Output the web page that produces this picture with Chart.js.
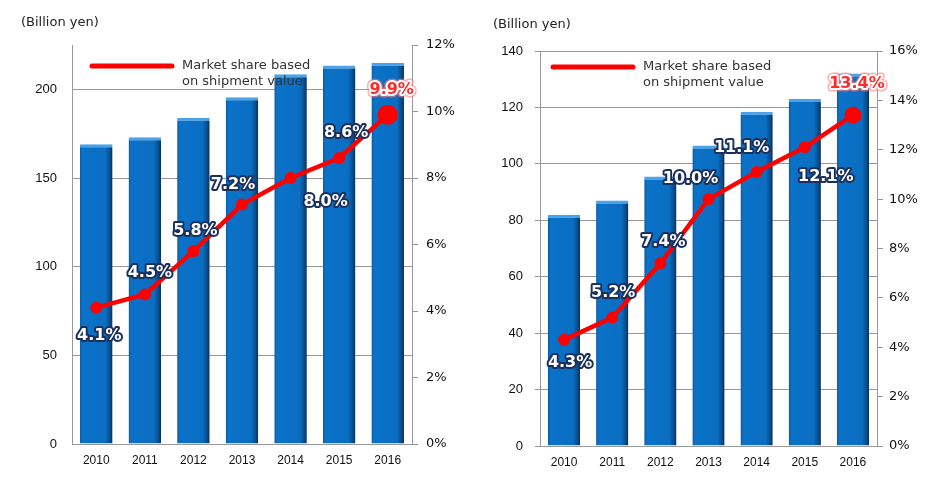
<!DOCTYPE html>
<html>
<head>
<meta charset="utf-8">
<script src="https://cdn.jsdelivr.net/npm/chart.js@4.4.1/dist/chart.umd.min.js"></script>
<style>
  body { margin: 0; background: #fff; }
  .wrap { position: absolute; top: 0; height: 478px; }
  #leftWrap { left: 0; width: 470px; }
  #rightWrap { left: 470px; width: 473px; }
</style>
</head>
<body>
<div class="wrap" id="leftWrap"><canvas id="chartLeft"></canvas></div>
<div class="wrap" id="rightWrap"><canvas id="chartRight"></canvas></div>
<script>
// Data
const years = ['2010', '2011', '2012', '2013', '2014', '2015', '2016'];

// left chart: sales (billion yen) and market share (%)
const leftSales = [169, 173, 184, 195.5, 208.5, 213.5, 215];
const leftShare = [4.1, 4.5, 5.8, 7.2, 8.0, 8.6, 9.9];

// right chart
const rightSales = [82, 87, 95.5, 106.5, 118.5, 123, 132];
const rightShare = [4.3, 5.2, 7.4, 10.0, 11.1, 12.1, 13.4];

const legendText = ['Market share based', 'on shipment value'];
const unitText = '(Billion yen)';

// Bar fill: horizontal gradient with darker edges
function barGradient(ctx) {
    const chart = ctx.chart;
    const area = chart.chartArea;
    if (!area || ctx.type !== 'data') return '#0a6ec2';
    const x = chart.scales.x.getPixelForValue(ctx.dataIndex);
    const w = (area.right - area.left) / years.length * 0.67;
    const g = chart.ctx.createLinearGradient(x - w / 2, 0, x + w / 2, 0);
    g.addColorStop(0, '#0b5a9f');
    g.addColorStop(0.08, '#0a72c8');
    g.addColorStop(0.78, '#0a6ec2');
    g.addColorStop(0.92, '#0a4c8a');
    g.addColorStop(1, '#08305c');
    return g;
}

// Draws unit label, legend and the share labels next to the points
const overlayPlugin = {
    id: 'overlay',
    afterDatasetsDraw(chart, args, opts) {
        const c = chart.ctx;
        const meta = chart.getDatasetMeta(1);
        const data = chart.data.datasets[1].data;
        c.save();
        c.font = 'bold 16px "DejaVu Sans"';
        c.textAlign = 'center';
        c.textBaseline = 'middle';
        c.lineJoin = 'round';
        meta.data.forEach((pt, i) => {
            const off = opts.offsets[i];
            const x = pt.x + off[0];
            const y = pt.y + off[1];
            const txt = data[i].toFixed(1) + '%';
            if (i === data.length - 1) {
                c.strokeStyle = 'rgba(255,120,120,0.6)';
                c.lineWidth = 7;
                c.strokeText(txt, x, y);
                c.strokeStyle = '#ffffff';
                c.lineWidth = 4;
                c.strokeText(txt, x, y);
                c.fillStyle = '#ff2a2a';
                c.fillText(txt, x, y);
            } else {
                c.strokeStyle = '#1a2f5c';
                c.lineWidth = 4;
                c.strokeText(txt, x, y);
                c.fillStyle = '#ffffff';
                c.fillText(txt, x, y);
            }
        });
        c.restore();
    },
    afterDraw(chart, args, opts) {
        const c = chart.ctx;
        const area = chart.chartArea;
        c.save();
        // unit label
        c.font = '13px "DejaVu Sans"';
        c.fillStyle = '#222';
        c.textBaseline = 'middle';
        c.textAlign = 'left';
        c.fillText(unitText, opts.unit[0], opts.unit[1]);
        // legend
        const lx = area.left + opts.legend[0];
        const ly = area.top + opts.legend[1];
        c.strokeStyle = '#ff0000';
        c.lineWidth = 5;
        c.lineCap = 'round';
        c.beginPath();
        c.moveTo(lx, ly);
        c.lineTo(lx + 80, ly);
        c.stroke();
        c.font = '13px "DejaVu Sans"';
        c.fillStyle = '#333';
        c.fillText(legendText[0], lx + 90, ly);
        c.fillText(legendText[1], lx + 90, ly + 16);
        c.restore();
    }
};

function makeChart(id, sales, share, cfg) {
    return new Chart(document.getElementById(id), {
        type: 'bar',
        data: {
            labels: years,
            datasets: [{
                type: 'bar',
                data: sales,
                backgroundColor: barGradient,
                borderColor: '#4aa3ea',
                borderWidth: { top: 3, left: 0, right: 0, bottom: 0 },
                borderSkipped: 'bottom',
                barPercentage: 0.67,
                categoryPercentage: 1,
                yAxisID: 'y',
                order: 2
            }, {
                type: 'line',
                data: share,
                borderColor: '#ff0000',
                backgroundColor: '#ff0000',
                borderWidth: 4.5,
                pointRadius: share.map((v, i) => i === share.length - 1 ? cfg.lastRadius : 6),
                pointBackgroundColor: '#ff0000',
                pointBorderWidth: 0,
                yAxisID: 'y1',
                order: 1
            }]
        },
        options: {
            responsive: true,
            maintainAspectRatio: false,
            animation: false,
            devicePixelRatio: 1,
            layout: { padding: { top: cfg.top, left: 0, right: 0, bottom: 0 } },
            plugins: {
                legend: { display: false },
                tooltip: { enabled: false },
                overlay: {
                    offsets: cfg.offsets,
                    unit: cfg.unit,
                    legend: cfg.legend
                }
            },
            scales: {
                x: {
                    grid: { display: false, drawTicks: false },
                    border: { color: '#999', width: 1 },
                    ticks: {
                        color: '#111',
                        padding: 9,
                        font: { family: '"Liberation Sans"', size: 12 }
                    },
                    afterFit(scale) { scale.height = cfg.bottomH; }
                },
                y: {
                    position: 'left',
                    min: 0,
                    max: cfg.salesMax,
                    grid: {
                        color: '#999',
                        drawTicks: cfg.leftTicks > 0,
                        tickLength: cfg.leftTicks
                    },
                    border: { color: '#999', width: 1 },
                    ticks: {
                        stepSize: cfg.salesStep,
                        includeBounds: false,
                        color: '#111',
                        padding: cfg.leftPad,
                        font: { family: '"Liberation Sans"', size: 13 }
                    },
                    afterFit(scale) { scale.width = cfg.leftW; }
                },
                y1: {
                    position: 'right',
                    min: 0,
                    max: cfg.shareMax,
                    grid: {
                        drawOnChartArea: false,
                        drawTicks: true,
                        tickLength: 6,
                        color: '#999'
                    },
                    border: { color: '#999', width: 1 },
                    ticks: {
                        stepSize: 2,
                        color: '#111',
                        padding: cfg.rightPad,
                        font: { family: '"DejaVu Sans"', size: 13 },
                        callback: v => v + '%'
                    },
                    afterFit(scale) { scale.width = cfg.rightW; }
                }
            }
        },
        plugins: [overlayPlugin]
    });
}

makeChart('chartLeft', leftSales, leftShare, {
    top: 45, bottomH: 34, leftW: 72, rightW: 58,
    salesMax: 225, salesStep: 50, shareMax: 12,
    leftTicks: 0, leftPad: 15, rightPad: 8, lastRadius: 10,
    unit: [21, 23], legend: [20, 21],
    offsets: [[3, 28], [5, -22], [2, -20], [-9, -20], [35, 24], [7, -25], [4, -25]]
});

makeChart('chartRight', rightSales, rightShare, {
    top: 51, bottomH: 32, leftW: 70, rightW: 66,
    salesMax: 140, salesStep: 20, shareMax: 16,
    leftTicks: 5, leftPad: 12, rightPad: 6, lastRadius: 8.5,
    unit: [23, 25], legend: [13, 16],
    offsets: [[6, 23], [1, -25], [3, -21], [-18, -20], [-15, -24], [21, 30], [4, -31]]
});
</script>
</body>
</html>
